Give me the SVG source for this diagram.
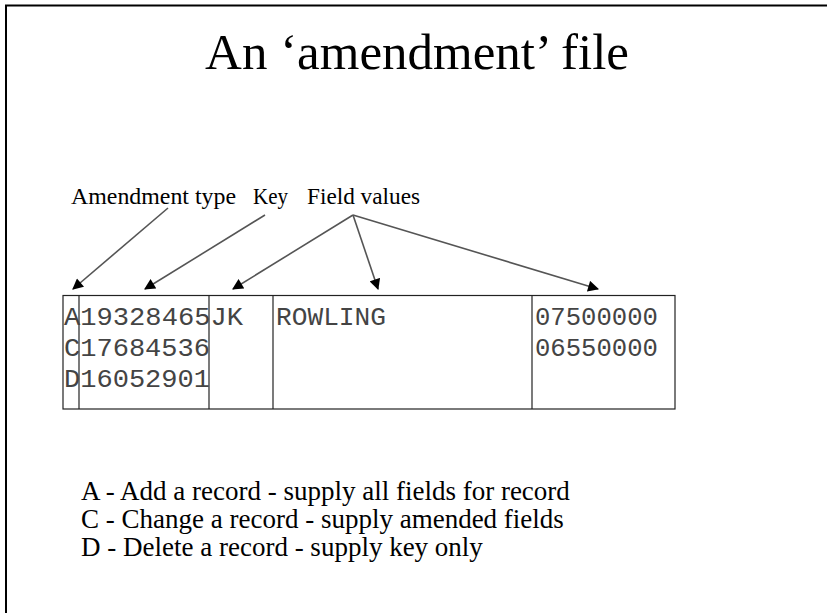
<svg xmlns="http://www.w3.org/2000/svg" width="827" height="613" viewBox="0 0 827 613">
<defs>
<style>
.serif{font-family:"Liberation Serif","Times New Roman",serif;fill:#000}
.mono{font-family:"Liberation Mono","Courier New",monospace;font-size:26px;fill:#444}
.cell{fill:none;stroke:#222;stroke-width:1.2}
.conn{stroke:#555;stroke-width:1.6;fill:none;marker-end:url(#ah)}
</style>
<marker id="ah" viewBox="0 0 10 10" refX="9" refY="5" markerWidth="12" markerHeight="11" markerUnits="userSpaceOnUse" orient="auto">
<path d="M0,0 L10,5 L0,10 Z" fill="#000"/>
</marker>
</defs>
<rect width="827" height="613" fill="#fff"/>
<path d="M6,613 V5.5 H827" fill="none" stroke="#000" stroke-width="2"/>
<text class="serif" x="417" y="69" font-size="51" text-anchor="middle">An ‘amendment’ file</text>
<g id="labels">
<text class="serif" x="71" y="204" font-size="23" textLength="165" lengthAdjust="spacingAndGlyphs">Amendment type</text>
<text class="serif" x="253" y="204" font-size="23" textLength="35" lengthAdjust="spacingAndGlyphs">Key</text>
<text class="serif" x="307" y="204" font-size="23" textLength="113" lengthAdjust="spacingAndGlyphs">Field values</text>
</g>
<g id="connectors">
<line class="conn" x1="168" y1="208" x2="73" y2="289"/>
<line class="conn" x1="265" y1="215" x2="145" y2="289"/>
<line class="conn" x1="353" y1="215" x2="233" y2="289"/>
<line class="conn" x1="353" y1="215" x2="378" y2="289"/>
<line class="conn" x1="353" y1="215" x2="598" y2="289"/>
</g>
<g id="table">
<rect class="cell" x="63" y="295.5" width="612" height="113.5"/>
<line class="cell" x1="79" y1="295.5" x2="79" y2="409"/>
<line class="cell" x1="209" y1="295.5" x2="209" y2="409"/>
<line class="cell" x1="273" y1="295.5" x2="273" y2="409"/>
<line class="cell" x1="532" y1="295.5" x2="532" y2="409"/>
<text class="mono" x="64" y="325" textLength="179" lengthAdjust="spacingAndGlyphs">A19328465JK</text>
<text class="mono" x="64" y="356" textLength="146" lengthAdjust="spacingAndGlyphs">C17684536</text>
<text class="mono" x="64" y="387" textLength="146" lengthAdjust="spacingAndGlyphs">D16052901</text>
<text class="mono" x="276" y="325" textLength="110" lengthAdjust="spacingAndGlyphs">ROWLING</text>
<text class="mono" x="535" y="325" textLength="123" lengthAdjust="spacingAndGlyphs">07500000</text>
<text class="mono" x="535" y="356" textLength="123" lengthAdjust="spacingAndGlyphs">06550000</text>
</g>
<g id="legend">
<text class="serif" x="81" y="500" font-size="27">A - Add a record - supply all fields for record</text>
<text class="serif" x="81" y="528" font-size="27">C - Change a record - supply amended fields</text>
<text class="serif" x="81" y="556" font-size="27">D - Delete a record - supply key only</text>
</g>
</svg>
